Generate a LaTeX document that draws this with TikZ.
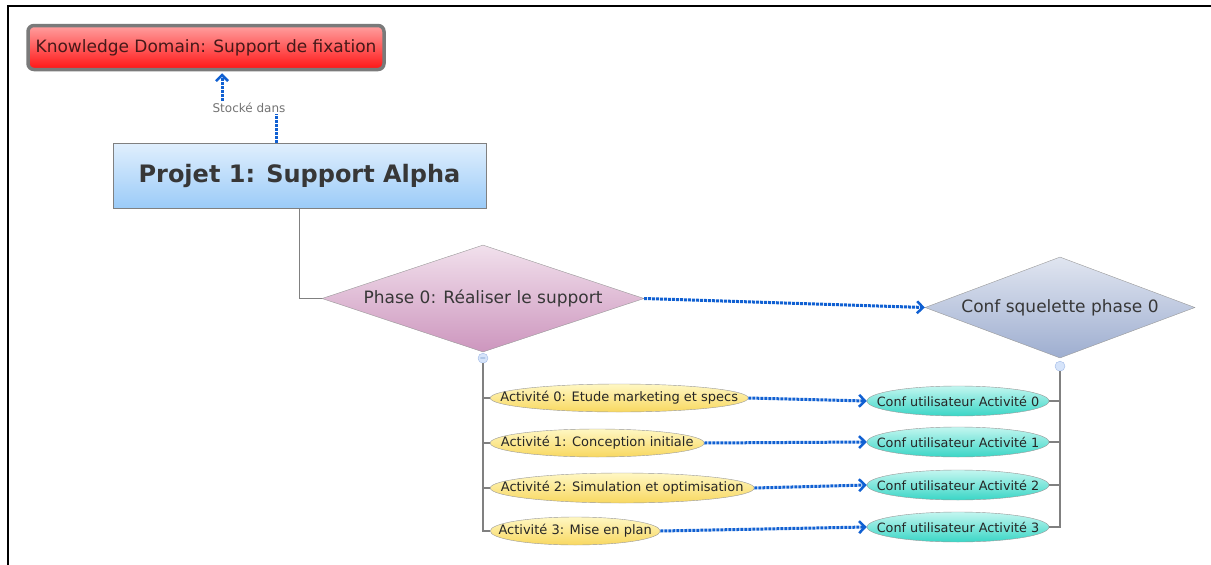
\documentclass[tikz,border=0pt]{standalone}
\usepackage[dvipsnames]{xcolor}
\usepackage{fontspec}
\setmainfont{DejaVu Sans}
\usepackage{tikz}
\usetikzlibrary{positioning, shapes.geometric, arrows.meta, calc}

\definecolor{linkblue}{RGB}{16,96,210}
\definecolor{treegray}{RGB}{128,128,128}
\definecolor{textgray}{RGB}{55,55,55}
\definecolor{domaintop}{RGB}{255,160,160}
\definecolor{domainbot}{RGB}{255,20,20}
\definecolor{domainborder}{RGB}{122,122,122}
\definecolor{domaintext}{RGB}{70,25,25}
\definecolor{projtop}{RGB}{224,239,253}
\definecolor{projbot}{RGB}{155,203,248}
\definecolor{phasetop}{RGB}{241,224,236}
\definecolor{phasebot}{RGB}{205,150,190}
\definecolor{squeltop}{RGB}{224,229,240}
\definecolor{squelbot}{RGB}{158,174,208}
\definecolor{acttop}{RGB}{255,247,195}
\definecolor{actbot}{RGB}{248,216,96}
\definecolor{conftop}{RGB}{195,246,240}
\definecolor{confbot}{RGB}{58,214,198}
\definecolor{knobfill}{RGB}{214,228,250}
\definecolor{knobborder}{RGB}{160,185,230}

\begin{document}
\begin{tikzpicture}[x=1pt, y=-1pt,
                domainbox/.style={draw=domainborder, line width=3.5pt, rounded corners=6pt, top color=domaintop, bottom color=domainbot, minimum width=356, minimum height=44, inner sep=0pt, text=domaintext, font=\fontsize{17}{20}\selectfont},
                project/.style={draw=treegray, thin, top color=projtop, bottom color=projbot, minimum width=373, minimum height=65, inner sep=0pt, text=textgray, font=\bfseries\fontsize{24}{28}\selectfont},
                phasebox/.style={diamond, draw=gray!80, thin, inner sep=0pt, text=textgray},
                activity/.style={ellipse, draw=gray!80, thin, top color=acttop, bottom color=actbot, minimum height=28, inner xsep=-70pt, inner ysep=0pt, text=black!85, font=\fontsize{13}{15}\selectfont},
                config/.style={ellipse, draw=gray!80, thin, top color=conftop, bottom color=confbot, minimum width=182, minimum height=30, inner xsep=-60pt, inner ysep=0pt, text=black!85, font=\fontsize{12.8}{15}\selectfont},
                link/.style={linkblue, line width=3pt, dash pattern=on 3pt off 1pt, -{Straight Barb[length=6pt, width=12pt, line width=2.5pt]}},
                treeline/.style={treegray, line width=1.3pt},
                knob/.style={circle, draw=knobborder, fill=knobfill, minimum size=10pt, inner sep=0pt, text=linkblue!70!black, font=\fontsize{8}{8}\selectfont},
                linklabel/.style={fill=white, inner sep=1pt, text=gray!90!black, font=\fontsize{12}{14}\selectfont}
            ]

            \useasboundingbox (0,0) rectangle (1211,565);

            % Rahmen
            \draw[line width=2.5pt] (8,565) -- (8,6) -- (1211,6);

            % Knoten
            \node[domainbox] (domain) at (206,47.5) {Knowledge Domain: Support de fixation};
            \node[project] (projet) at (299.5,175.5) {Projet 1: Support Alpha};
            \node[phasebox, aspect=3, minimum width=322, minimum height=107, top color=phasetop, bottom color=phasebot, font=\fontsize{17}{20}\selectfont] (phase) at (483,298.5) {Phase 0: Réaliser le support};
            \node[phasebox, aspect=2.67, minimum width=270, minimum height=101, top color=squeltop, bottom color=squelbot, font=\fontsize{17}{20}\selectfont] (squelette) at (1060,307.5) {Conf squelette phase 0};

            \node[knob] (phaseknob) at ([yshift=-6pt]phase.south) {$-$};
            \node[knob] (squelknob) at ([yshift=-8pt]squelette.south) {};

            \node[activity, anchor=west, minimum width=258] (act0) at (490,398) {Activité 0: Etude marketing et specs};
            \node[activity, anchor=west, minimum width=214] (act1) at (490,443) {Activité 1: Conception initiale};
            \node[activity, anchor=west, minimum width=264, minimum height=30] (act2) at (490,488) {Activité 2: Simulation et optimisation};
            \node[activity, anchor=west, minimum width=170] (act3) at (490,531) {Activité 3: Mise en plan};

            \node[config] (conf0) at (958,401) {Conf utilisateur Activité 0};
            \node[config] (conf1) at (958,442) {Conf utilisateur Activité 1};
            \node[config] (conf2) at (958,485) {Conf utilisateur Activité 2};
            \node[config] (conf3) at (958,527) {Conf utilisateur Activité 3};

            % Kanten zwischen Knoten
            \draw[treeline] (projet.south) |- (phase.west);
            \draw[treeline] (phaseknob.south) |- (act0.west);
            \draw[treeline] (phaseknob.south) |- (act1.west);
            \draw[treeline] (phaseknob.south) |- (act2.west);
            \draw[treeline] (phaseknob.south) |- (act3.west);
            \draw[treeline] (squelknob.south) |- (conf0.east);
            \draw[treeline] (squelknob.south) |- (conf1.east);
            \draw[treeline] (squelknob.south) |- (conf2.east);
            \draw[treeline] (squelknob.south) |- (conf3.east);

            \draw[link] ([xshift=-23.5pt]projet.north) -- ++(0,-35) -| node[pos=0.25, linklabel] {Stocké dans} ([xshift=16pt, yshift=-2pt]domain.south);
            \draw[link] (phase.east) -- (squelette.west);
            \draw[link] (act0.east) -- (conf0.west);
            \draw[link] (act1.east) -- (conf1.west);
            \draw[link] (act2.east) -- (conf2.west);
            \draw[link] (act3.east) -- (conf3.west);

        \end{tikzpicture}
\end{document}
